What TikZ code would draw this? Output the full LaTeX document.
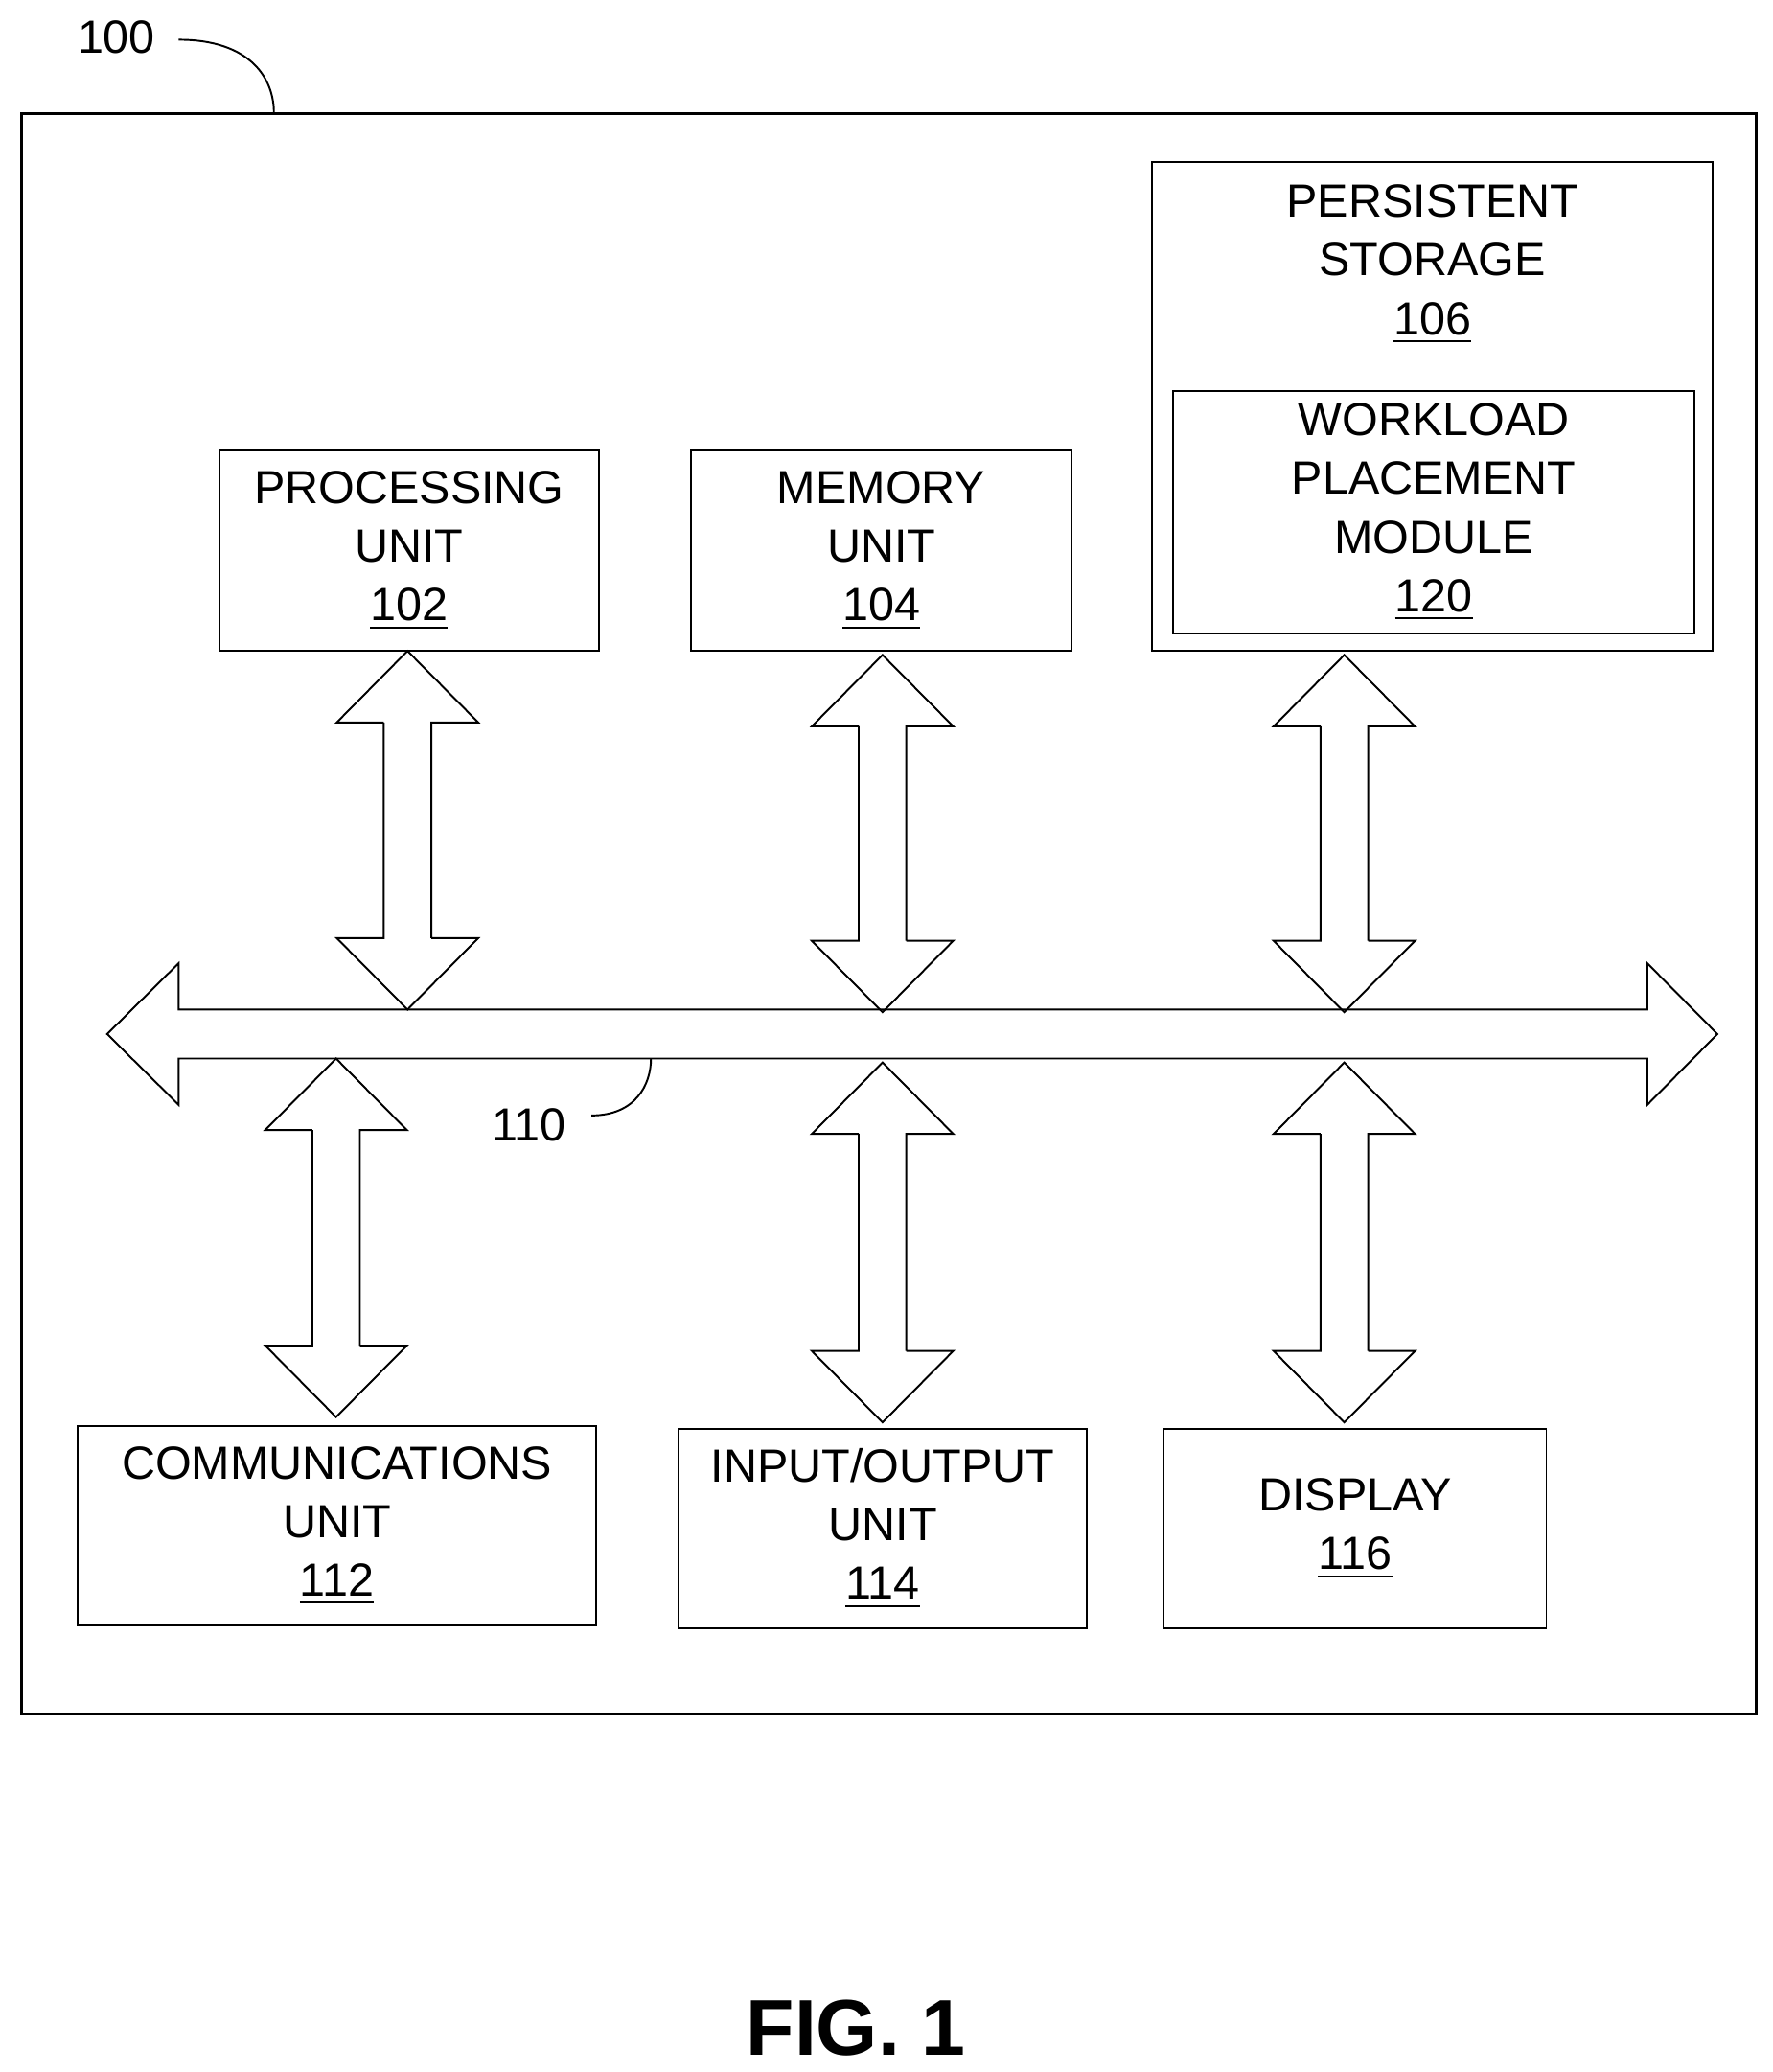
\documentclass[tikz,border=0pt]{standalone}
\usepackage{fontspec}
\setmainfont{Liberation Sans}
\usetikzlibrary{positioning}

% vertical block arrow: centre x, top tip y, bottom tip y
\newcommand{\vbus}[3]{%
\draw[thin] (#1,#2) -- ++(0.535,-0.54) -- ++(-0.355,0) |- ($(#1,#3)+(0.18,0.54)$)
  -- ++(0.355,0) -- (#1,#3) -- ++(-0.535,0.54) -- ++(0.355,0) |- ($(#1,#2)+(-0.18,-0.54)$)
  -- ++(-0.355,0) -- cycle;}
\usetikzlibrary{calc}

\begin{document}
\begin{tikzpicture}[x=1cm,y=1cm,font=\fontsize{10}{12.6}\selectfont]
\tikzset{
block/.style={draw, thin, align=center, inner sep=0pt},
label/.style={inner sep=0pt}
}
\useasboundingbox (0,0) rectangle (13.4,-15.66);

\node[draw, semithick, minimum width=13.11cm, minimum height=12.09cm, anchor=north west] (system) at (0.15,-0.85) {};

\node[block, minimum width=2.87cm, minimum height=1.51cm, anchor=north west] (processing) at (1.65,-3.40) {PROCESSING\\UNIT\\\underline{102}};
\node[block, minimum width=2.88cm, minimum height=1.51cm, right=0.68cm of processing] (memory) {MEMORY\\UNIT\\\underline{104}};
\node[block, minimum width=4.24cm, minimum height=3.69cm, anchor=north west] (storage) at (8.70,-1.22) {};
\node[label, align=center, below=0.17cm of storage.north] (storagetext) {PERSISTENT\\STORAGE\\\underline{106}};
\node[block, minimum width=3.94cm, minimum height=1.83cm, anchor=south] (placement) at ($(storage.south)+(0.01,0.13)$) {WORKLOAD\\PLACEMENT\\MODULE\\\underline{120}};

\node[block, minimum width=3.92cm, minimum height=1.51cm, anchor=north west] (comm) at (0.58,-10.77) {COMMUNICATIONS\\UNIT\\\underline{112}};
\node[block, minimum width=3.09cm, minimum height=1.51cm, anchor=north west] (io) at (5.12,-10.79) {INPUT/OUTPUT\\UNIT\\\underline{114}};
\node[block, minimum width=2.89cm, minimum height=1.51cm, anchor=north west] (display) at (8.79,-10.79) {DISPLAY\\\underline{116}};

% bus 110
\draw[thin] (0.81,-7.815) -- (1.35,-7.28) -- (1.35,-7.63) -- (12.45,-7.63) -- (12.45,-7.28)
  -- (12.98,-7.815) -- (12.45,-8.35) -- (12.45,-8.00) -- (1.35,-8.00) -- (1.35,-8.35) -- cycle;

\vbus{3.08}{-4.92}{-7.63}
\vbus{6.67}{-4.95}{-7.65}
\vbus{10.16}{-4.95}{-7.65}
\vbus{2.54}{-8.00}{-10.71}
\vbus{6.67}{-8.03}{-10.75}
\vbus{10.16}{-8.03}{-10.75}

\node[label] (ref100) at (0.88,-0.28) {100};
\draw[thin] (1.35,-0.30) .. controls (1.9,-0.30) and (2.07,-0.6) .. (2.07,-0.85);
\node[label] (ref110) at (4.00,-8.50) {110};
\draw[thin] (4.47,-8.43) .. controls (4.8,-8.43) and (4.92,-8.2) .. (4.92,-8.00);

\node[label, font=\fontsize{17}{20}\selectfont\bfseries] (fig) at (6.47,-15.33) {FIG. 1};
\end{tikzpicture}
\end{document}
